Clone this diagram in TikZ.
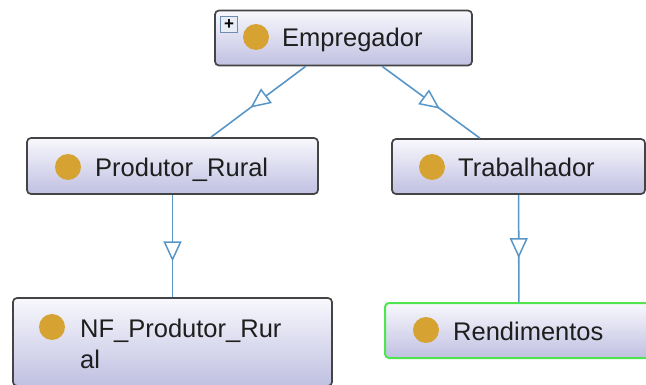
\documentclass[tikz,border=0pt]{standalone}
\usepackage{fontspec}
\setmainfont{Liberation Sans}
\usetikzlibrary{arrows.meta,decorations.markings}

\definecolor{boxtop}{RGB}{248,248,253}
\definecolor{boxbot}{RGB}{192,192,226}
\definecolor{boxline}{RGB}{68,68,68}
\definecolor{dotcol}{RGB}{214,162,50}
\definecolor{linkcol}{RGB}{88,150,200}
\definecolor{selgreen}{RGB}{80,228,80}
\definecolor{txtcol}{RGB}{30,30,30}
\definecolor{plusline}{RGB}{110,140,175}
\definecolor{plusfill}{RGB}{232,236,244}

\begin{document}
\begin{tikzpicture}[x=1pt,y=-1pt,
  classbox/.style={draw=boxline, line width=1.7pt, rounded corners=4pt,
    top color=boxtop, bottom color=boxbot, inner sep=0pt, minimum height=55pt},
  dot/.style={circle, fill=dotcol, minimum size=26pt, inner sep=0pt},
  cname/.style={anchor=base west, font=\fontsize{25.5}{30}\selectfont,
    text=txtcol, inner sep=0pt},
  isa/.style={draw=linkcol, line width=1.6pt, postaction={decorate},
    decoration={markings, mark=at position #1 with
      {\arrow[line width=1.5pt]{Triangle[length=20pt,width=18pt,fill=white]}}}}
]
\useasboundingbox (0,0) rectangle (646,385);
\clip (0,0) rectangle (646,385);

% class boxes
\node[classbox, minimum width=257pt] (emp) at (343.5,38) {};
\node[classbox, minimum width=291pt, minimum height=56pt] (prod) at (172.5,166) {};
\node[classbox, minimum width=253pt] (trab) at (518.5,166.5) {};
\node[classbox, minimum width=319pt, minimum height=88pt] (nf) at (172.5,342) {};
\node[classbox, draw=selgreen, line width=2pt, minimum width=268pt] (rend) at (519,330.5) {};

% expand marker on the root class
\node[draw=plusline, fill=plusfill, line width=1pt, minimum width=17pt, minimum height=16pt, inner sep=0pt] (plus) at (229,25) {};
\node[font=\bfseries\fontsize{17}{17}\selectfont, inner sep=0pt] (plustxt) at (plus.center) {+};

% class icons
\node[dot] (empdot) at (256,37) {};
\node[dot] (proddot) at (68,167) {};
\node[dot] (trabdot) at (432,167) {};
\node[dot] (nfdot) at (52,327) {};
\node[dot] (renddot) at (426,330) {};

% class names
\node[cname] (emptxt) at (282,47) {Empregador};
\node[cname] (prodtxt) at (95,177) {Produtor\_Rural};
\node[cname] (trabtxt) at (458,177) {Trabalhador};
\node[cname] (nftxta) at (80,337) {NF\_Produtor\_Rur};
\node[cname] (nftxtb) at (80,368) {al};
\node[cname] (rendtxt) at (453,340) {Rendimentos};

% subclass links
\draw[isa=0.585] (emp) -- (prod);
\draw[isa=0.59] (emp) -- (trab);
\draw[isa=0.65] (prod) -- (nf);
\draw[isa=0.59] (trab) -- (rend);
\end{tikzpicture}
\end{document}
